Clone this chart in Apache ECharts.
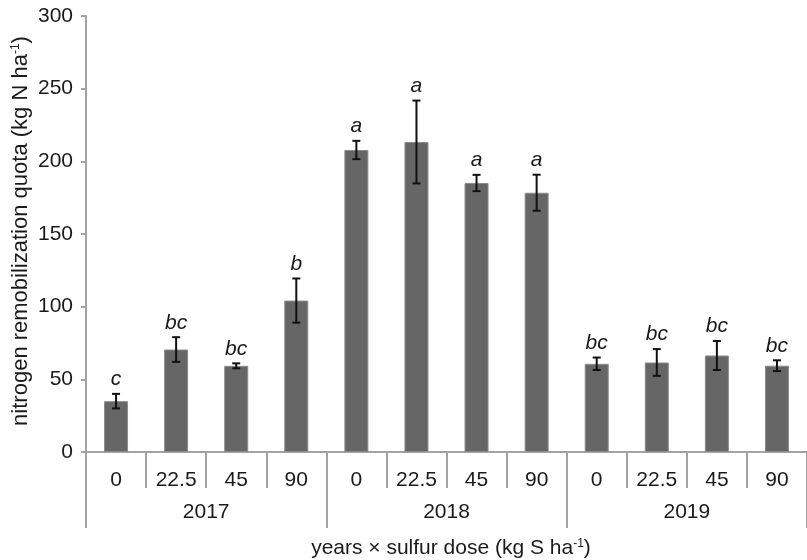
<!DOCTYPE html>
<html>
<head>
<meta charset="utf-8">
<script src="https://cdn.jsdelivr.net/npm/echarts@6/dist/echarts.min.js"></script>
<style>
  html, body { margin: 0; padding: 0; background: #fff; }
  #chart { width: 807px; height: 560px; }
</style>
</head>
<body>
<div id="chart"></div>
<script>
// Nitrogen remobilization quota by year and sulfur dose
const years = ['2017', '2018', '2019'];
const doses = ['0', '22.5', '45', '90', '0', '22.5', '45', '90', '0', '22.5', '45', '90'];
const means = [35, 70.5, 59.3, 104.2, 207.8, 213.3, 185.1, 178.4, 60.7, 61.6, 66.4, 59.4];
const errors = [5, 8.5, 1.7, 15.2, 6.3, 28.5, 5.6, 12.4, 4.3, 9.2, 10, 3.7];
const letters = ['c', 'bc', 'bc', 'b', 'a', 'a', 'a', 'a', 'bc', 'bc', 'bc', 'bc'];
const yTicks = { min: 0, max: 300, step: 50 };

const FONT = '"Liberation Sans", Arial, sans-serif';
const AXIS_COLOR = '#a3a3a3';
const TEXT_COLOR = '#1a1a1a';

const errData = means.map((m, i) => [i, m, errors[i]]);

const chart = echarts.init(document.getElementById('chart'), null, { renderer: 'canvas' });

chart.setOption({
  animation: false,
  backgroundColor: '#fff',
  grid: { left: 86, top: 16, width: 729, height: 436, containLabel: false },
  xAxis: [
    {
      type: 'category',
      data: doses,
      position: 'bottom',
      axisLine: { show: true, lineStyle: { color: AXIS_COLOR, width: 2 } },
      axisTick: { show: true, interval: 0, length: 36, lineStyle: { color: AXIS_COLOR, width: 2 } },
      axisLabel: { interval: 0, margin: 18, fontSize: 21, color: TEXT_COLOR, fontFamily: FONT }
    },
    {
      type: 'category',
      data: years,
      position: 'bottom',
      axisLine: { show: false },
      axisTick: { show: true, interval: 0, length: 76, lineStyle: { color: AXIS_COLOR, width: 2 } },
      axisLabel: { interval: 0, margin: 50, fontSize: 21, color: TEXT_COLOR, fontFamily: FONT }
    }
  ],
  yAxis: {
    type: 'value',
    min: yTicks.min,
    max: yTicks.max,
    interval: yTicks.step,
    splitLine: { show: false },
    axisLine: { show: true, lineStyle: { color: AXIS_COLOR, width: 2 } },
    axisTick: { show: true, length: 5, lineStyle: { color: AXIS_COLOR, width: 2 } },
    axisLabel: { margin: 13, fontSize: 21, color: TEXT_COLOR, fontFamily: FONT }
  },
  series: [
    {
      type: 'bar',
      data: means,
      barWidth: 24,
      xAxisIndex: 0,
      itemStyle: { color: '#666666', borderColor: '#8c8c8c', borderWidth: 1 }
    },
    {
      type: 'custom',
      xAxisIndex: 0,
      data: errData,
      encode: { x: 0, y: 1 },
      z: 5,
      renderItem: function (params, api) {
        const i = api.value(0);
        const m = api.value(1);
        const e = api.value(2);
        const top = api.coord([i, m + e]);
        const bot = api.coord([i, m - e]);
        const x = top[0];
        const cap = 4;
        const ls = { stroke: '#111', lineWidth: 2 };
        return {
          type: 'group',
          children: [
            { type: 'line', shape: { x1: x, y1: top[1], x2: x, y2: bot[1] }, style: ls },
            { type: 'line', shape: { x1: x - cap, y1: top[1], x2: x + cap, y2: top[1] }, style: ls },
            { type: 'line', shape: { x1: x - cap, y1: bot[1], x2: x + cap, y2: bot[1] }, style: ls },
            {
              type: 'text',
              style: {
                text: letters[i],
                x: x,
                y: top[1] - 4,
                align: 'center',
                verticalAlign: 'bottom',
                fontSize: 21,
                fontStyle: 'italic',
                fontFamily: FONT,
                fill: TEXT_COLOR
              }
            }
          ]
        };
      }
    }
  ],
  graphic: [
    {
      type: 'text',
      x: 21,
      y: 231,
      rotation: Math.PI / 2,
      style: {
        text: 'nitrogen remobilization quota (kg N ha{sup|-1})',
        align: 'center',
        verticalAlign: 'middle',
        fontSize: 22,
        fontFamily: FONT,
        fill: TEXT_COLOR,
        rich: { sup: { fontSize: 12, verticalAlign: 'top', fontFamily: FONT, fill: TEXT_COLOR, padding: [0, 0, 9, 0] } }
      }
    },
    {
      type: 'text',
      x: 451,
      y: 548,
      style: {
        text: 'years \u00d7 sulfur dose (kg S ha{sup|-1})',
        align: 'center',
        verticalAlign: 'middle',
        fontSize: 21,
        fontFamily: FONT,
        fill: TEXT_COLOR,
        rich: { sup: { fontSize: 12, verticalAlign: 'top', fontFamily: FONT, fill: TEXT_COLOR, padding: [0, 0, 9, 0] } }
      }
    }
  ]
});
</script>
</body>
</html>
